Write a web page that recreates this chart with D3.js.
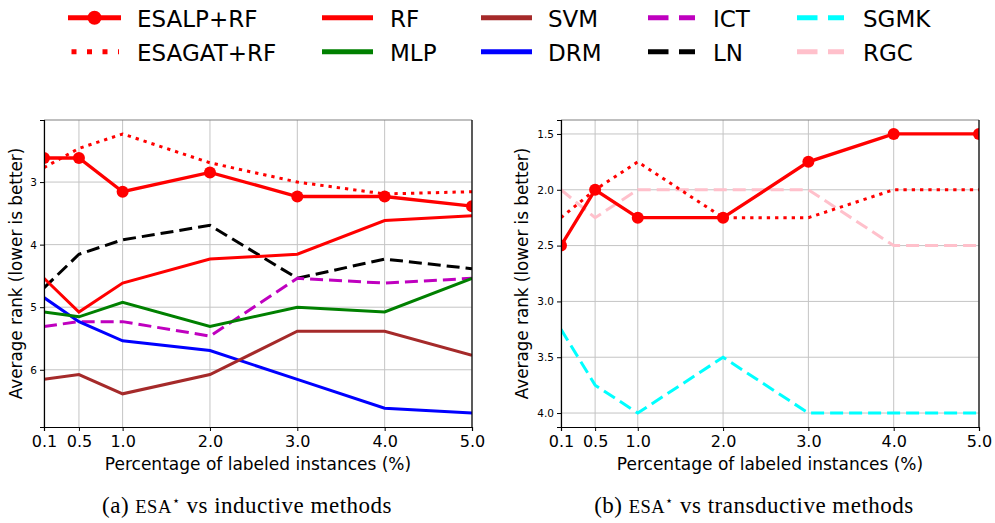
<!DOCTYPE html>
<html>
<head>
<meta charset="utf-8">
<script src="https://cdn.jsdelivr.net/npm/d3@7"></script>
<style>
  body { margin: 0; background: #fff; }
  svg { font-family: "DejaVu Sans", sans-serif; }
  .caption { font-family: "Liberation Serif", "DejaVu Serif", serif; }
</style>
</head>
<body>
<div id="chart"></div>
<script>
// x positions (percentage of labeled instances)
const percents = [0.1, 0.5, 1.0, 2.0, 3.0, 4.0, 5.0];

// (a) inductive methods - average rank
const esalpInd = [2.615, 2.615, 3.154, 2.846, 3.231, 3.231, 3.385];
const esagatInd = [2.769, 2.462, 2.231, 2.692, 3.0, 3.19, 3.154];
const rfInd = [4.538, 5.077, 4.615, 4.231, 4.154, 3.615, 3.538];
const mlpInd = [5.077, 5.154, 4.923, 5.308, 5.0, 5.077, 4.538];
const svmInd = [6.154, 6.077, 6.385, 6.077, 5.385, 5.385, 5.769];
const drmInd = [4.846, 5.231, 5.538, 5.692, 6.154, 6.615, 6.692];
const ictInd = [5.308, 5.231, 5.231, 5.462, 4.538, 4.615, 4.538];
const lnInd = [4.692, 4.154, 3.923, 3.692, 4.538, 4.231, 4.385];

// (b) transductive methods - average rank
const esalpTr = [2.5, 2.0, 2.25, 2.25, 1.75, 1.5, 1.5];
const esagatTr = [2.25, 2.0, 1.75, 2.25, 2.25, 2.0, 2.0];
const sgmkTr = [3.25, 3.75, 4.0, 3.5, 4.0, 4.0, 4.0];
const rgcTr = [2.0, 2.25, 2.0, 2.0, 2.0, 2.5, 2.5];

const leftTicks = [3, 4, 5, 6];
const rightTicks = [1.5, 2.0, 2.5, 3.0, 3.5, 4.0];

// legend (column-major, 2 rows)
const legendNames = ["ESALP+RF", "ESAGAT+RF", "RF", "MLP", "SVM", "DRM", "ICT", "LN", "SGMK", "RGC"];

const styles = {
  "ESALP+RF": { color: "#ff0000", dash: null, marker: true },
  "ESAGAT+RF": { color: "#ff0000", dash: "dot" },
  "RF": { color: "#ff0000", dash: null },
  "MLP": { color: "#008000", dash: null },
  "SVM": { color: "#a52a2a", dash: null },
  "DRM": { color: "#0000ff", dash: null },
  "ICT": { color: "#bf00bf", dash: "dash" },
  "LN": { color: "#000000", dash: "dash" },
  "SGMK": { color: "#00ffff", dash: "dash" },
  "RGC": { color: "#ffc0cb", dash: "dash" }
};

const W = 995, H = 523;
const svg = d3.select("#chart").append("svg").attr("width", W).attr("height", H);

function drawPanel(id, box, series, ticks, fmt, caption) {
  const allVals = series.flatMap((s) => s.values);
  const lo = d3.min(allVals), hi = d3.max(allVals);
  const pad = (hi - lo) * 0.05;

  const x = d3.scaleLinear().domain([0.1, 5.0]).range([box.x0, box.x1]);
  const y = d3.scaleLinear().domain([lo - pad, hi + pad]).range([box.y0, box.y1]);

  const g = svg.append("g");

  g.append("clipPath").attr("id", id)
    .append("rect")
    .attr("x", box.x0).attr("y", box.y0)
    .attr("width", box.x1 - box.x0).attr("height", box.y1 - box.y0);

  // grid
  g.selectAll(".vgrid").data(percents).join("line")
    .attr("x1", (d) => x(d)).attr("x2", (d) => x(d))
    .attr("y1", box.y0).attr("y2", box.y1)
    .attr("stroke", "#c4c4c4").attr("stroke-width", 1);
  g.selectAll(".hgrid").data(ticks).join("line")
    .attr("x1", box.x0).attr("x2", box.x1)
    .attr("y1", (d) => y(d)).attr("y2", (d) => y(d))
    .attr("stroke", "#c4c4c4").attr("stroke-width", 1);

  // series
  const line = d3.line().x((d, i) => x(percents[i])).y((d) => y(d));
  const plot = g.append("g").attr("clip-path", `url(#${id})`);
  series.slice().reverse().forEach((s) => {
    const st = styles[s.name];
    plot.append("path")
      .datum(s.values)
      .attr("d", line)
      .attr("fill", "none")
      .attr("stroke", st.color)
      .attr("stroke-width", st.marker ? 3.3 : 3)
      .attr("stroke-dasharray", st.dash === "dot" ? "3.3,5" : st.dash === "dash" ? "13,6" : null);
    if (st.marker) {
      plot.selectAll(null).data(s.values).join("circle")
        .attr("cx", (d, i) => x(percents[i]))
        .attr("cy", (d) => y(d))
        .attr("r", 6)
        .attr("fill", st.color);
    }
  });

  // spines
  g.append("line").attr("x1", box.x0).attr("x2", box.x1).attr("y1", box.y0).attr("y2", box.y0)
    .attr("stroke", "#808080").attr("stroke-width", 1.2);
  g.append("line").attr("x1", box.x1).attr("x2", box.x1).attr("y1", box.y0).attr("y2", box.y1)
    .attr("stroke", "#000").attr("stroke-width", 1.2);

  // axes
  const xAxis = g.append("g")
    .attr("transform", `translate(0,${box.y1})`)
    .call(d3.axisBottom(x).tickValues(percents).tickFormat(d3.format(".1f")).tickSizeOuter(0).tickSize(4).tickPadding(5));
  xAxis.selectAll("text").attr("font-size", 16).attr("font-family", "DejaVu Sans").attr("fill", "#000");

  const yAxis = g.append("g")
    .attr("transform", `translate(${box.x0},0)`)
    .call(d3.axisLeft(y).tickValues(ticks).tickFormat(fmt).tickSizeOuter(0).tickSize(4).tickPadding(3));
  yAxis.selectAll("text").attr("font-size", 10.5).attr("font-family", "DejaVu Sans").attr("fill", "#000");
  [xAxis, yAxis].forEach((a) => {
    a.select(".domain").attr("stroke", "#000").attr("stroke-width", 1.2);
    a.selectAll(".tick line").attr("stroke", "#000");
  });

  // axis titles
  const cx = (box.x0 + box.x1) / 2;
  g.append("text")
    .attr("x", cx).attr("y", 470)
    .attr("text-anchor", "middle")
    .attr("font-size", 17)
    .text("Percentage of labeled instances (%)");

  g.append("text")
    .attr("transform", `translate(${box.x0 - box.ylab},${(box.y0 + box.y1) / 2}) rotate(-90)`)
    .attr("text-anchor", "middle")
    .attr("font-size", 16.8)
    .text("Average rank (lower is better)");

  // caption
  const cap = g.append("text")
    .attr("class", "caption")
    .attr("x", box.capx).attr("y", 513)
    .attr("text-anchor", "middle")
    .attr("font-size", 23)
    .attr("letter-spacing", 0.5);
  cap.append("tspan").text(caption[0] + " ");
  cap.append("tspan").attr("font-size", 18.5).text("ESA");
  cap.append("tspan").attr("font-size", 13).attr("dy", -8).text("⋆");
  cap.append("tspan").attr("dy", 8).text(" " + caption[1]);
}

drawPanel(
  "clipA",
  { x0: 44, x1: 472, y0: 120, y1: 427, ylab: 22, capx: 247 },
  [
    { name: "ESALP+RF", values: esalpInd },
    { name: "ESAGAT+RF", values: esagatInd },
    { name: "RF", values: rfInd },
    { name: "MLP", values: mlpInd },
    { name: "SVM", values: svmInd },
    { name: "DRM", values: drmInd },
    { name: "ICT", values: ictInd },
    { name: "LN", values: lnInd }
  ],
  leftTicks,
  d3.format("d"),
  ["(a)", "vs inductive methods"]
);

drawPanel(
  "clipB",
  { x0: 561, x1: 979, y0: 120, y1: 427, ylab: 33, capx: 754 },
  [
    { name: "ESALP+RF", values: esalpTr },
    { name: "ESAGAT+RF", values: esagatTr },
    { name: "SGMK", values: sgmkTr },
    { name: "RGC", values: rgcTr }
  ],
  rightTicks,
  d3.format(".1f"),
  ["(b)", "vs transductive methods"]
);

// legend
const colX = [68, 322, 481, 648, 797];
const textX = [137, 390, 548, 713, 863];
const rowY = [17.7, 51.7];
const legend = svg.append("g");
legendNames.forEach((name, i) => {
  const col = Math.floor(i / 2), row = i % 2;
  const st = styles[name];
  const ly = rowY[row];
  const x0 = colX[col];
  if (st.dash === "dash") {
    legend.append("line").attr("x1", x0).attr("x2", x0 + 47).attr("y1", ly).attr("y2", ly)
      .attr("stroke", st.color).attr("stroke-width", 5).attr("stroke-dasharray", "20.5,10.5");
  } else if (st.dash === "dot") {
    legend.append("line").attr("x1", x0 + 3.5).attr("x2", x0 + 51).attr("y1", ly).attr("y2", ly)
      .attr("stroke", st.color).attr("stroke-width", 5).attr("stroke-dasharray", "5,10.5");
  } else {
    legend.append("line").attr("x1", x0).attr("x2", x0 + (st.marker ? 53 : 51)).attr("y1", ly).attr("y2", ly)
      .attr("stroke", st.color).attr("stroke-width", 5);
    if (st.marker) {
      legend.append("circle").attr("cx", x0 + 26.5).attr("cy", ly).attr("r", 7).attr("fill", st.color);
    }
  }
  legend.append("text")
    .attr("x", textX[col]).attr("y", ly + 9)
    .attr("font-size", 23)
    .text(name);
});
</script>
</body>
</html>
